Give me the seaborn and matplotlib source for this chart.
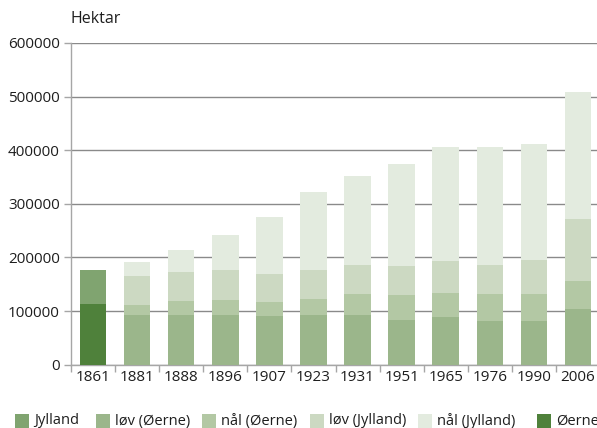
import matplotlib
matplotlib.use("Agg")
import matplotlib.pyplot as plt
from matplotlib.patches import Rectangle
import seaborn as sns
import pandas as pd
import numpy as np

# Forest area in Denmark (hectares), stacked by region and tree type
years = ["1861", "1881", "1888", "1896", "1907", "1923", "1931", "1951", "1965", "1976", "1990", "2006"]
oerne_total = [113000, 0, 0, 0, 0, 0, 0, 0, 0, 0, 0, 0]
jylland_total = [63000, 0, 0, 0, 0, 0, 0, 0, 0, 0, 0, 0]
loev_oerne = [0, 92500, 92500, 92500, 91000, 92500, 92500, 83000, 88500, 81000, 81000, 103500]
naal_oerne = [0, 18500, 26000, 28000, 26000, 29500, 39000, 46500, 45000, 50500, 50500, 52000]
loev_jylland = [0, 54000, 54000, 55500, 52000, 54000, 54000, 54000, 59500, 54000, 63000, 117000]
naal_jylland = [0, 26000, 41000, 65500, 106000, 147000, 167000, 191500, 213500, 221000, 217500, 236500]

series_names = ["Øerne", "Jylland", "løv (Øerne)", "nål (Øerne)", "løv (Jylland)", "nål (Jylland)"]
series_vals = [oerne_total, jylland_total, loev_oerne, naal_oerne, loev_jylland, naal_jylland]
colors = {
    "Øerne": "#4f813b",
    "Jylland": "#80a470",
    "løv (Øerne)": "#9bb68b",
    "nål (Øerne)": "#b3c8a4",
    "løv (Jylland)": "#ccd9c2",
    "nål (Jylland)": "#e3ebdf",
}
legend_order = ["Jylland", "løv (Øerne)", "nål (Øerne)", "løv (Jylland)", "nål (Jylland)", "Øerne"]

sns.set_theme(style="white")
plt.rcParams["font.family"] = ["Open Sans", "DejaVu Sans"]
text_color = "#1e1e1e"
fs = 11

W, H = 597, 428
fig = plt.figure(figsize=(W / 100, H / 100), dpi=100)
ax = fig.add_axes([71 / W, 63.3 / H, 529 / W, 321.7 / H])

bottom = np.zeros(len(years))
for name, vals in zip(series_names, series_vals):
    df = pd.DataFrame({"year": years, "value": vals})
    sns.barplot(data=df, x="year", y="value", order=years, color=colors[name],
                bottom=bottom, width=0.6, ax=ax, saturation=1, linewidth=0, zorder=3)
    bottom = bottom + np.array(vals)

ax.set_xlim(-0.5, len(years) - 0.5)
ax.set_ylim(0, 600000)
ax.set_yticks(np.arange(0, 600001, 100000))
ax.set_yticklabels([str(v) for v in range(0, 600001, 100000)])
ax.set_xlabel("")
ax.set_ylabel("")

ax.yaxis.grid(True, color="#8a8a8a", linewidth=1.0, zorder=0)
ax.xaxis.grid(False)
ax.set_axisbelow(True)

for side in ["top", "right"]:
    ax.spines[side].set_visible(False)
for side in ["left", "bottom"]:
    ax.spines[side].set_color("#a6a6a6")
    ax.spines[side].set_linewidth(1.0)

ax.set_xticks(np.arange(-0.5, len(years), 1.0), minor=True)
ax.tick_params(axis="x", which="major", length=0, pad=4, labelsize=fs, labelcolor=text_color)
ax.tick_params(axis="x", which="minor", length=5, width=1, color="#a6a6a6", direction="out", bottom=True)
ax.tick_params(axis="y", which="major", length=5, width=1, color="#a6a6a6", direction="out",
               pad=3, labelsize=fs, labelcolor=text_color, left=True)

fig.text(70 / W, 1 - 19 / H, "Hektar", ha="left", va="center", fontsize=fs + 0.5, color=text_color)

# Legend row along the bottom edge: swatch followed by its label
legend_x = [15, 96, 202, 310, 418, 537]
legend_y = 421
sw = 14
for name, x in zip(legend_order, legend_x):
    fig.patches.append(Rectangle(((x) / W, 1 - (legend_y + sw / 2) / H), sw / W, sw / H,
                                 transform=fig.transFigure, facecolor=colors[name],
                                 edgecolor="none", figure=fig))
    fig.text((x + sw + 5) / W, 1 - legend_y / H, name, ha="left", va="center",
             fontsize=10.5, color=text_color)

fig.savefig("out.png", dpi=100)
